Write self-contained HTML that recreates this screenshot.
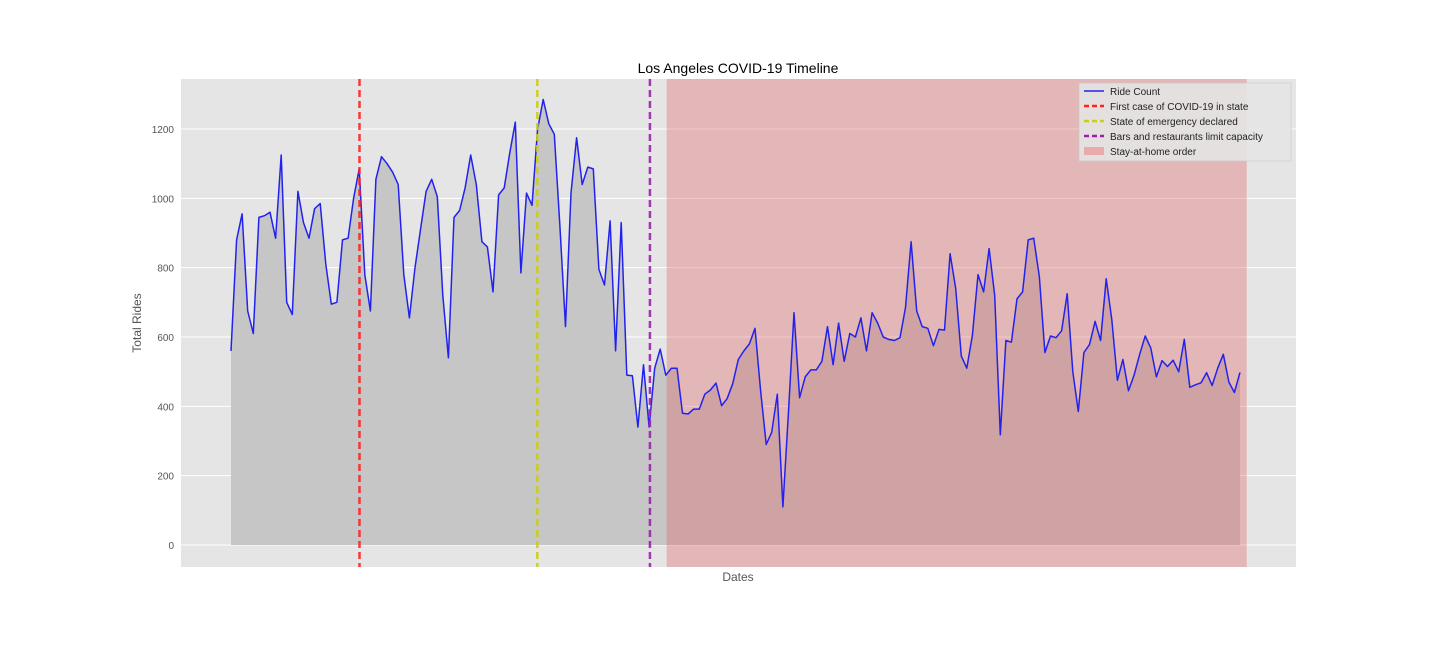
<!DOCTYPE html>
<html><head><meta charset="utf-8"><style>
body{margin:0;background:#fff;font-family:"Liberation Sans",sans-serif}
svg text{font-family:"Liberation Sans",sans-serif}
</style></head><body>
<svg id="chart" width="1440" height="648" xmlns="http://www.w3.org/2000/svg">
<rect x="181" y="79" width="1115" height="488" fill="#e5e5e5"/>
<g id="grid"></g>
<g id="marks"></g>
<text x="738" y="73" text-anchor="middle" font-size="14" fill="#000">Los Angeles COVID-19 Timeline</text>
<text x="738" y="581" text-anchor="middle" font-size="12" fill="#555">Dates</text>
<text x="141" y="323" text-anchor="middle" font-size="12" fill="#555" transform="rotate(-90 141 323)">Total Rides</text>
<g id="legend">
<rect x="1079" y="83" width="212" height="78" fill="#e5e5e5" stroke="#ccc" stroke-width="0.8" opacity="0.9"/>
<line x1="1084" y1="91" x2="1104" y2="91" stroke="#2222ee" stroke-width="1.5"/>
<text x="1110" y="95" font-size="10" fill="#222">Ride Count</text>
<line x1="1084" y1="106" x2="1104" y2="106" stroke="#ff2222" stroke-width="2.5" stroke-dasharray="5,3"/>
<text x="1110" y="110" font-size="10" fill="#222">First case of COVID-19 in state</text>
<line x1="1084" y1="121" x2="1104" y2="121" stroke="#cccc11" stroke-width="2.5" stroke-dasharray="5,3"/>
<text x="1110" y="125" font-size="10" fill="#222">State of emergency declared</text>
<line x1="1084" y1="136" x2="1104" y2="136" stroke="#9922aa" stroke-width="2.5" stroke-dasharray="5,3"/>
<text x="1110" y="140" font-size="10" fill="#222">Bars and restaurants limit capacity</text>
<rect x="1084" y="147" width="20" height="8" fill="#e8aaaa"/>
<text x="1110" y="155" font-size="10" fill="#222">Stay-at-home order</text>
</g>
</svg>
<script>
const rides=[560,880,955,675,610,945,950,960,885,1125,700,665,1020,930,885,970,985,810,695,700,880,885,1000,1085,780,675,1055,1120,1100,1075,1040,780,655,800,910,1020,1055,1005,720,540,945,965,1030,1125,1040,875,860,730,1010,1030,1130,1220,785,1015,980,1200,1285,1215,1185,920,630,1015,1175,1040,1090,1085,795,750,935,560,930,490,488,340,520,340,510,565,490,510,510,380,378,392,392,435,447,467,402,422,465,535,560,580,625,445,290,325,435,110,385,670,425,485,505,505,530,630,520,640,530,610,600,655,560,670,640,600,593,590,598,685,875,675,630,625,575,622,620,840,740,545,510,605,780,730,855,720,318,590,585,710,730,880,885,775,555,603,598,618,725,500,385,555,578,645,590,768,650,475,535,445,490,550,603,568,485,532,515,533,500,593,455,462,468,497,460,510,550,470,440,498];
const eventNames=["first-case-line","emergency-line","bars-limit-line"];
const eventDays=[23.05,54.95,75.15];
const eventColors=["#ff2222","#cccc11","#9922aa"];
const stayHome=[78.15,182.2];
const yTicks=[0,200,400,600,800,1000,1200];

const NS="http://www.w3.org/2000/svg";
const n=rides.length;
const step=(1240-231)/(n-1);
const xs=d=>231+d*step;
const ys=v=>545-v*(416/1200);
function mk(tag,attrs,parent){const e=document.createElementNS(NS,tag);for(const k in attrs)e.setAttribute(k,attrs[k]);parent.appendChild(e);return e;}
const grid=document.getElementById('grid'),marks=document.getElementById('marks'),svg=document.getElementById('chart');
yTicks.forEach(t=>{
  const l=mk('line',{x1:181,x2:1296,y1:ys(t),y2:ys(t),stroke:'#fff','stroke-width':1},grid);
  
  
  const tx=mk('text',{x:174,y:ys(t)+4,'text-anchor':'end','font-size':10,fill:'#555'},svg);
  tx.textContent=t;
  
  
});
let pts=rides.map((v,i)=>xs(i).toFixed(1)+','+ys(v).toFixed(1)).join(' ');
const area=mk('polygon',{points:xs(0)+','+ys(0)+' '+pts+' '+xs(n-1)+','+ys(0),fill:'#c6c6c6'},marks);


const band=mk('rect',{x:xs(stayHome[0]),y:79,width:xs(stayHome[1])-xs(stayHome[0]),height:488,fill:'#e06060','fill-opacity':0.35},marks);


const line=mk('polyline',{points:pts,fill:'none',stroke:'#2222ee','stroke-width':1.5,'stroke-linejoin':'round'},marks);


eventDays.forEach((d,i)=>{
  const l=mk('line',{x1:xs(d),x2:xs(d),y1:79,y2:567,stroke:eventColors[i],'stroke-width':2.5,'stroke-dasharray':'7,4','stroke-opacity':0.9},marks);
  
  
});
</script>
</body></html>
